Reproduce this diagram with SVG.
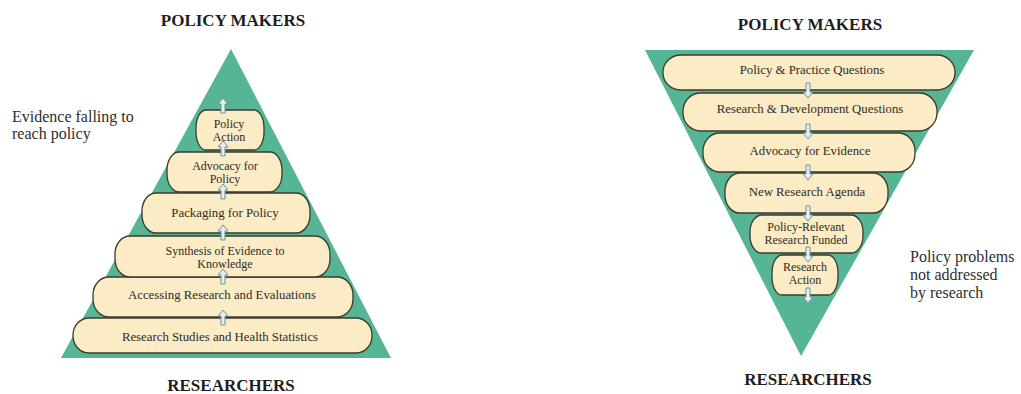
<svg xmlns="http://www.w3.org/2000/svg" width="1021" height="394" viewBox="0 0 1021 394">
<style>
.tri{fill:#55b595}
.box{fill:#fcecc6;stroke:#3b3a2e;stroke-width:1.3}
.bt{font-family:"Liberation Serif",serif;font-size:12.8px;fill:#2f2b25;text-anchor:middle}
.bt2{font-family:"Liberation Serif",serif;font-size:12px;fill:#2f2b25;text-anchor:middle}
.title{font-family:"Liberation Serif",serif;font-size:17px;font-weight:bold;fill:#1e1e1e;text-anchor:middle}
.note{font-family:"Liberation Serif",serif;font-size:16px;fill:#2e2e2e}
.arr{fill:#e6efee;stroke:#6f8f98;stroke-width:1}
</style>
<defs>
<path id="up" d="M0,0 L5,6 L2,6 L2,15 L-2,15 L-2,6 L-5,6 Z"/>
<path id="down" d="M0,15 L5,9 L2,9 L2,0 L-2,0 L-2,9 L-5,9 Z"/>
</defs>
<rect width="1021" height="394" fill="#ffffff"/>

<g id="left-pyramid">
<polygon class="tri" points="231,49 391,358 61,358"/>
<text class="title" x="233" y="26">POLICY MAKERS</text>
<text class="title" x="231" y="391">RESEARCHERS</text>
<text class="note" x="12" y="122">Evidence falling to</text>
<text class="note" x="12" y="139">reach policy</text>
</g>

<g id="l-research-studies">
<rect class="box" x="73" y="318" width="299" height="35" rx="16" ry="17"/>
<text class="bt" x="220" y="341">Research Studies and Health Statistics</text>
</g>
<g id="l-accessing">
<rect class="box" x="93" y="277" width="260" height="40" rx="16" ry="18"/>
<text class="bt" x="222" y="299">Accessing Research and Evaluations</text>
</g>
<g id="l-synthesis">
<rect class="box" x="115" y="236" width="215" height="41" rx="15" ry="18"/>
<text class="bt2" x="225" y="255">Synthesis of Evidence to</text>
<text class="bt2" x="225" y="268">Knowledge</text>
</g>
<g id="l-packaging">
<rect class="box" x="142" y="193" width="168" height="40" rx="14" ry="18"/>
<text class="bt" x="225" y="217">Packaging for Policy</text>
</g>
<g id="l-advocacy">
<rect class="box" x="167" y="152" width="115" height="40" rx="12" ry="18"/>
<text class="bt2" x="225" y="170">Advocacy for</text>
<text class="bt2" x="225" y="183">Policy</text>
</g>
<g id="l-policy-action">
<rect class="box" x="196" y="110" width="68" height="40" rx="10" ry="18"/>
<text class="bt2" x="229" y="128">Policy</text>
<text class="bt2" x="229" y="141">Action</text>
</g>

<g id="right-pyramid">
<polygon class="tri" points="645,50 974,50 801,356"/>
<text class="title" x="810" y="30">POLICY MAKERS</text>
<text class="title" x="808" y="385">RESEARCHERS</text>
<text class="note" x="910" y="262">Policy problems</text>
<text class="note" x="910" y="280">not addressed</text>
<text class="note" x="910" y="298">by research</text>
</g>

<g id="r-policy-practice">
<rect class="box" x="663" y="55" width="292" height="35" rx="18" ry="17"/>
<text class="bt" x="812" y="74">Policy &amp; Practice Questions</text>
</g>
<g id="r-research-dev">
<rect class="box" x="683" y="93" width="254" height="38" rx="18" ry="18"/>
<text class="bt" x="810" y="113">Research &amp; Development Questions</text>
</g>
<g id="r-advocacy">
<rect class="box" x="703" y="133" width="212" height="39" rx="17" ry="18"/>
<text class="bt" x="810" y="155">Advocacy for Evidence</text>
</g>
<g id="r-new-agenda">
<rect class="box" x="725" y="173" width="163" height="40" rx="15" ry="18"/>
<text class="bt" x="807" y="196">New Research Agenda</text>
</g>
<g id="r-policy-relevant">
<rect class="box" x="750" y="215" width="113" height="38" rx="12" ry="17"/>
<text class="bt2" x="806" y="231">Policy-Relevant</text>
<text class="bt2" x="806" y="244">Research Funded</text>
</g>
<g id="r-research-action">
<rect class="box" x="772" y="255" width="66" height="40" rx="10" ry="18"/>
<text class="bt2" x="805" y="271">Research</text>
<text class="bt2" x="805" y="284">Action</text>
</g>

<g id="connectors" class="arr">
<use href="#up" x="223" y="98"/>
<use href="#up" x="223" y="141"/>
<use href="#up" x="223" y="184"/>
<use href="#up" x="223" y="225"/>
<use href="#up" x="223" y="269"/>
<use href="#up" x="223" y="310"/>
<use href="#down" x="808" y="83"/>
<use href="#down" x="808" y="124"/>
<use href="#down" x="808" y="165"/>
<use href="#down" x="808" y="206"/>
<use href="#down" x="808" y="247"/>
<use href="#down" x="808" y="288"/>
</g>
</svg>
